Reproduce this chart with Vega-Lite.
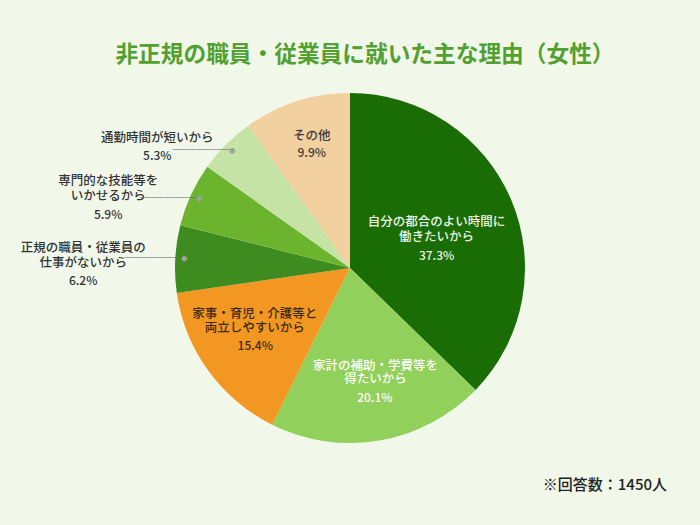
{
  "$schema": "https://vega.github.io/schema/vega-lite/v6.json",
  "width": 700,
  "height": 376,
  "autosize": {"type": "none"},
  "padding": {"top": 80, "bottom": 69, "left": 0, "right": 0},
  "background": "#f1f8ea",
  "config": {"view": {"stroke": null}, "font": "Noto Sans CJK JP"},
  "title": {
    "text": "非正規の職員・従業員に就いた主な理由（女性）",
    "fontSize": 22.7,
    "fontWeight": "bold",
    "color": "#52a030",
    "anchor": "middle",
    "dx": 15,
    "offset": 13
  },
  "data": {
    "values": [
      {"rank": 1, "reason": "自分の都合のよい時間に\n働きたいから", "share": 0.373},
      {"rank": 2, "reason": "家計の補助・学費等を\n得たいから", "share": 0.201},
      {"rank": 3, "reason": "家事・育児・介護等と\n両立しやすいから", "share": 0.154},
      {"rank": 4, "reason": "正規の職員・従業員の\n仕事がないから", "share": 0.062},
      {"rank": 5, "reason": "専門的な技能等を\nいかせるから", "share": 0.059},
      {"rank": 6, "reason": "通勤時間が短いから", "share": 0.053},
      {"rank": 7, "reason": "その他", "share": 0.099}
    ]
  },
  "layer": [
    {
      "encoding": {
        "theta": {"field": "share", "type": "quantitative", "stack": true},
        "order": {"field": "rank", "type": "quantitative"}
      },
      "layer": [
        {
          "mark": {"type": "arc", "outerRadius": 175},
          "encoding": {
            "color": {
              "field": "rank",
              "type": "nominal",
              "scale": {
                "domain": [1, 2, 3, 4, 5, 6, 7],
                "range": ["#1a6c05", "#92d05c", "#f29722", "#3e8b1f", "#6cb42e", "#c4e3a4", "#f3d0a0"]
              },
              "legend": null
            }
          }
        },
        {
          "mark": {"type": "text", "radius": 94, "dy": -9, "fontSize": 12.5, "lineHeight": 15, "lineBreak": "\n", "fontWeight": 500, "color": "#eef5e6"},
          "encoding": {"text": {"condition": {"test": "datum.rank == 1", "field": "reason", "type": "nominal"}, "value": ""}}
        },
        {
          "mark": {"type": "text", "radius": 94, "dy": 25, "fontSize": 12, "fontWeight": 500, "color": "#eef5e6"},
          "encoding": {"text": {"condition": {"test": "datum.rank == 1", "field": "share", "type": "quantitative", "format": ".1%"}, "value": ""}}
        },
        {
          "mark": {"type": "text", "radius": 106, "dx": 7.5, "dy": -6.5, "fontSize": 12.5, "lineHeight": 13.5, "lineBreak": "\n", "fontWeight": 500, "color": "#ffffff"},
          "encoding": {"text": {"condition": {"test": "datum.rank == 2", "field": "reason", "type": "nominal"}, "value": ""}}
        },
        {
          "mark": {"type": "text", "radius": 106, "dx": 7, "dy": 25.5, "fontSize": 12, "fontWeight": 500, "color": "#ffffff"},
          "encoding": {"text": {"condition": {"test": "datum.rank == 2", "field": "share", "type": "quantitative", "format": ".1%"}, "value": ""}}
        },
        {
          "mark": {"type": "text", "radius": 107, "dx": -8.5, "dy": -17, "fontSize": 12.5, "lineHeight": 14, "lineBreak": "\n", "fontWeight": 500, "color": "#3b2a12"},
          "encoding": {"text": {"condition": {"test": "datum.rank == 3", "field": "reason", "type": "nominal"}, "value": ""}}
        },
        {
          "mark": {"type": "text", "radius": 107, "dx": -8, "dy": 15, "fontSize": 12, "fontWeight": 500, "color": "#3b2a12"},
          "encoding": {"text": {"condition": {"test": "datum.rank == 3", "field": "share", "type": "quantitative", "format": ".1%"}, "value": ""}}
        },
        {
          "mark": {"type": "text", "radius": 125, "dy": -13, "fontSize": 12.5, "fontWeight": 500, "color": "#3a3a3a"},
          "encoding": {"text": {"condition": {"test": "datum.rank == 7", "field": "reason", "type": "nominal"}, "value": ""}}
        },
        {
          "mark": {"type": "text", "radius": 125, "dy": 4, "fontSize": 12, "fontWeight": 500, "color": "#3a3a3a"},
          "encoding": {"text": {"condition": {"test": "datum.rank == 7", "field": "share", "type": "quantitative", "format": ".1%"}, "value": ""}}
        },
        {
          "mark": {"type": "text", "radius": 166, "dx": -101, "dy": -11, "fontSize": 12.5, "lineHeight": 14.5, "lineBreak": "\n", "fontWeight": 500, "color": "#333333"},
          "encoding": {"text": {"condition": {"test": "datum.rank == 4", "field": "reason", "type": "nominal"}, "value": ""}}
        },
        {
          "mark": {"type": "text", "radius": 166, "dx": -101, "dy": 21.5, "fontSize": 12, "fontWeight": 500, "color": "#333333"},
          "encoding": {"text": {"condition": {"test": "datum.rank == 4", "field": "share", "type": "quantitative", "format": ".1%"}, "value": ""}}
        },
        {
          "mark": {"type": "text", "radius": 166, "dx": -91, "dy": -18, "fontSize": 12.5, "lineHeight": 15, "lineBreak": "\n", "fontWeight": 500, "color": "#333333"},
          "encoding": {"text": {"condition": {"test": "datum.rank == 5", "field": "reason", "type": "nominal"}, "value": ""}}
        },
        {
          "mark": {"type": "text", "radius": 166, "dx": -91, "dy": 16.5, "fontSize": 12, "fontWeight": 500, "color": "#333333"},
          "encoding": {"text": {"condition": {"test": "datum.rank == 5", "field": "share", "type": "quantitative", "format": ".1%"}, "value": ""}}
        },
        {
          "mark": {"type": "text", "radius": 166, "dx": -75, "dy": -13, "fontSize": 12.5, "fontWeight": 500, "color": "#333333"},
          "encoding": {"text": {"condition": {"test": "datum.rank == 6", "field": "reason", "type": "nominal"}, "value": ""}}
        },
        {
          "mark": {"type": "text", "radius": 166, "dx": -75, "dy": 5.5, "fontSize": 12, "fontWeight": 500, "color": "#333333"},
          "encoding": {"text": {"condition": {"test": "datum.rank == 6", "field": "share", "type": "quantitative", "format": ".1%"}, "value": ""}}
        },
        {
          "mark": {"type": "text", "radius": 166, "align": "right", "fontSize": 12, "color": "#666666"},
          "encoding": {
            "text": {"condition": {"test": "datum.rank >= 4 && datum.rank <= 6", "value": "─────"}, "value": ""},
            "dx": {"condition": {"test": "datum.rank == 5", "value": 2}, "value": 0},
            "dy": {"condition": {"test": "datum.rank == 5", "value": -4}, "value": -1.5}
          }
        },
        {
          "mark": {"type": "text", "radius": 166, "fontSize": 6, "color": "#9aa396"},
          "encoding": {
            "text": {"condition": {"test": "datum.rank >= 4 && datum.rank <= 6", "value": "●"}, "value": ""},
            "dx": {"condition": {"test": "datum.rank == 5", "value": 2}, "value": 0},
            "dy": {"condition": {"test": "datum.rank == 5", "value": -4}, "value": -1.5}
          }
        }
      ]
    },
    {
      "data": {"values": [{"note": "※回答数：1450人"}]},
      "mark": {"type": "text", "align": "right", "baseline": "middle", "fontSize": 15, "fontWeight": 500, "color": "#222222", "x": {"expr": "width - 33"}, "y": {"expr": "height + 29"}},
      "encoding": {"text": {"field": "note", "type": "nominal"}}
    }
  ]
}
